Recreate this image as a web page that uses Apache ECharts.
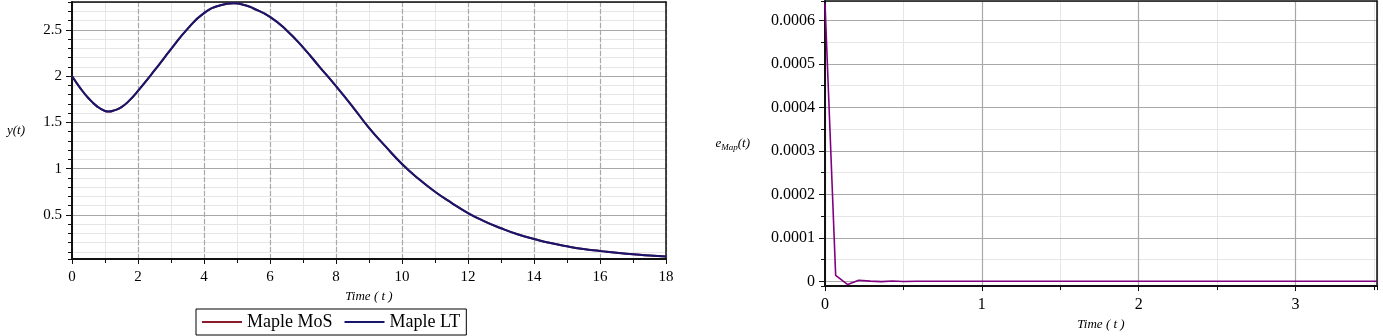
<!DOCTYPE html>
<html>
<head>
<meta charset="utf-8">
<script src="https://cdn.jsdelivr.net/npm/echarts@6.0.0/dist/echarts.min.js"></script>
<style>
  html, body { margin: 0; background: #fff; }
  #chart { width: 1383px; height: 336px; }
</style>
</head>
<body>
<div id="chart"></div>
<script>
// left panel: y(t) from both methods (the curves sit on top of each other)
const timeA = [0, 0.25, 0.5, 0.75, 1, 1.1, 1.25, 1.5, 1.75, 2, 2.5, 3, 3.5, 4, 4.5, 4.9, 5.25, 5.5, 6, 6.5, 7, 7.5, 8, 8.5, 9, 9.5,
  10, 10.5, 11, 11.5, 12, 12.5, 13, 13.5, 14, 14.5, 15, 15.5, 16, 16.5, 17, 17.5, 18];
const mosY = [2.00, 1.87, 1.76, 1.675, 1.622, 1.616, 1.625, 1.665, 1.74, 1.84, 2.06, 2.29, 2.51, 2.68, 2.765, 2.786, 2.765, 2.73, 2.64, 2.495, 2.31, 2.10, 1.89, 1.67, 1.44, 1.24,
  1.05, 0.89, 0.75, 0.63, 0.52, 0.43, 0.355, 0.29, 0.24, 0.195, 0.16, 0.13, 0.11, 0.09, 0.075, 0.06, 0.05];
const ltY = [2.00, 1.87, 1.76, 1.675, 1.622, 1.616, 1.625, 1.665, 1.74, 1.84, 2.06, 2.29, 2.51, 2.68, 2.765, 2.786, 2.765, 2.73, 2.64, 2.495, 2.31, 2.10, 1.89, 1.67, 1.44, 1.24,
  1.05, 0.89, 0.75, 0.63, 0.52, 0.43, 0.355, 0.29, 0.24, 0.195, 0.16, 0.13, 0.11, 0.09, 0.075, 0.06, 0.05];

// right panel: error e_Map(t)
const timeB = [0, 0.068, 0.145, 0.215, 0.29, 0.36, 0.43, 0.5, 0.58, 0.7, 1, 1.5, 2, 2.5, 3, 3.52];
const errB = [0.00064, 0.0000135, -0.0000075, 0.0000025, 0.0000005, -0.0000008, 0.0000008, -0.0000003, 0.0000002, 0, 0, 0, 0, 0, 0, 0];

const legendNames = ['Maple MoS', 'Maple LT'];

const SERIF = 'Liberation Serif';
const majorGrid = '#a8a8a8';
const minorGrid = '#e6e6e6';

function pairs(xs, ys) {
  return xs.map((x, i) => [x, ys[i]]);
}

let myChart = echarts.init(document.getElementById('chart'));

// each panel gets: main axis (labels, major lines), minor axis (light lines + small ticks), border axis
function xAxes(grid, min, max, major, minor, fontSize, dashed, nameGap) {
  return [
    {
      type: 'value', gridIndex: grid, position: 'bottom', min: min, max: max, interval: major, z: 1,
      axisLine: { onZero: false, lineStyle: { color: '#111', width: 2 } },
      axisTick: { length: 5, lineStyle: { color: '#111' } },
      axisLabel: { color: '#000', fontFamily: SERIF, fontSize: fontSize, margin: 11, showMaxLabel: max % major === 0 },
      splitLine: { lineStyle: { color: majorGrid, width: 1.2, type: dashed ? [5, 2] : 'solid' } },
      name: 'Time ( t )', nameLocation: 'middle', nameGap: nameGap,
      nameTextStyle: { color: '#000', fontFamily: SERIF, fontStyle: 'italic', fontSize: 13 }
    },
    {
      type: 'value', gridIndex: grid, position: 'bottom', min: min, max: max, interval: minor, z: 0,
      axisLine: { show: false, onZero: false },
      axisTick: { length: 4, lineStyle: { color: '#111' } },
      axisLabel: { show: false },
      splitLine: { lineStyle: { color: minorGrid, width: 1 } }
    },
    {
      type: 'value', gridIndex: grid, position: 'top', min: min, max: max, z: 1,
      axisLine: { onZero: false, lineStyle: { color: '#111', width: 1.5 } },
      axisTick: { show: false }, axisLabel: { show: false }, splitLine: { show: false }
    }
  ];
}

function yAxes(grid, min, max, major, minor, fontSize, name, nameGap, rich, formatter) {
  return [
    {
      type: 'value', gridIndex: grid, position: 'left', min: min, max: max,
      minInterval: major, maxInterval: major, z: 1,
      axisLine: { onZero: false, lineStyle: { color: '#111', width: 2 } },
      axisTick: { length: 6, lineStyle: { color: '#111' } },
      axisLabel: { color: '#000', fontFamily: SERIF, fontSize: fontSize, margin: 10,
        showMinLabel: false, showMaxLabel: false, formatter: formatter },
      splitLine: { lineStyle: { color: majorGrid, width: 1.2 } },
      name: name, nameLocation: 'middle', nameRotate: 0, nameGap: nameGap,
      nameTextStyle: { color: '#000', fontFamily: SERIF, fontStyle: 'italic', fontSize: 13, rich: rich }
    },
    {
      type: 'value', gridIndex: grid, position: 'left', min: min, max: max,
      minInterval: minor, maxInterval: minor, z: 0,
      axisLine: { show: false, onZero: false },
      axisTick: { length: 4, lineStyle: { color: '#111' } },
      axisLabel: { show: false },
      splitLine: { lineStyle: { color: minorGrid, width: 1 } }
    },
    {
      type: 'value', gridIndex: grid, position: 'right', min: min, max: max, z: 1,
      axisLine: { onZero: false, lineStyle: { color: '#111', width: 1.5 } },
      axisTick: { show: false }, axisLabel: { show: false }, splitLine: { show: false }
    }
  ];
}

const errRich = {
  e: { fontFamily: SERIF, fontStyle: 'italic', fontSize: 13, color: '#000' },
  s: { fontFamily: SERIF, fontStyle: 'italic', fontSize: 9, color: '#000', padding: [9, 0, 0, 0] },
  p: { fontFamily: SERIF, fontStyle: 'italic', fontSize: 13, color: '#000' }
};

myChart.setOption({
  animation: false,
  backgroundColor: '#fff',
  grid: [
    { left: 72, top: 2, width: 594, height: 257 },
    { left: 825, top: 1, width: 552, height: 291 }
  ],
  legend: {
    data: legendNames,
    left: 196, top: 309,
    icon: 'rect',
    itemWidth: 40, itemHeight: 2, itemGap: 12,
    padding: [4, 6, 4, 6],
    borderColor: '#000', borderWidth: 1,
    backgroundColor: '#fff',
    textStyle: { color: '#000', fontFamily: SERIF, fontSize: 18 }
  },
  xAxis: [
    ...xAxes(0, 0, 18, 2, 1, 15, true, 30),
    ...xAxes(1, 0, 3.52, 1, 0.5, 16, false, 29)
  ],
  yAxis: [
    ...yAxes(0, 0.023, 2.8, 0.5, 0.1, 15, 'y(t)', 47, null, null),
    ...yAxes(1, -0.000011, 0.000645, 0.0001, 0.00005, 16, '{e|e}{s|Map}{p|(t)}', 75, errRich,
      function (v) { return Math.abs(v) < 1e-12 ? '0' : v.toFixed(4); })
  ],
  series: [
    {
      name: 'Maple MoS', type: 'line', xAxisIndex: 0, yAxisIndex: 0,
      symbol: 'none', smooth: 0.5,
      lineStyle: { color: '#8b1c2c', width: 2 }, itemStyle: { color: '#8b1c2c' },
      data: pairs(timeA, mosY)
    },
    {
      name: 'Maple LT', type: 'line', xAxisIndex: 0, yAxisIndex: 0,
      symbol: 'none', smooth: 0.5,
      lineStyle: { color: '#16166e', width: 2 }, itemStyle: { color: '#16166e' },
      data: pairs(timeA, ltY)
    },
    {
      name: 'e_Map', type: 'line', xAxisIndex: 3, yAxisIndex: 3,
      symbol: 'none',
      lineStyle: { color: '#800080', width: 1.6 }, itemStyle: { color: '#800080' },
      data: pairs(timeB, errB)
    }
  ]
});
</script>
</body>
</html>
